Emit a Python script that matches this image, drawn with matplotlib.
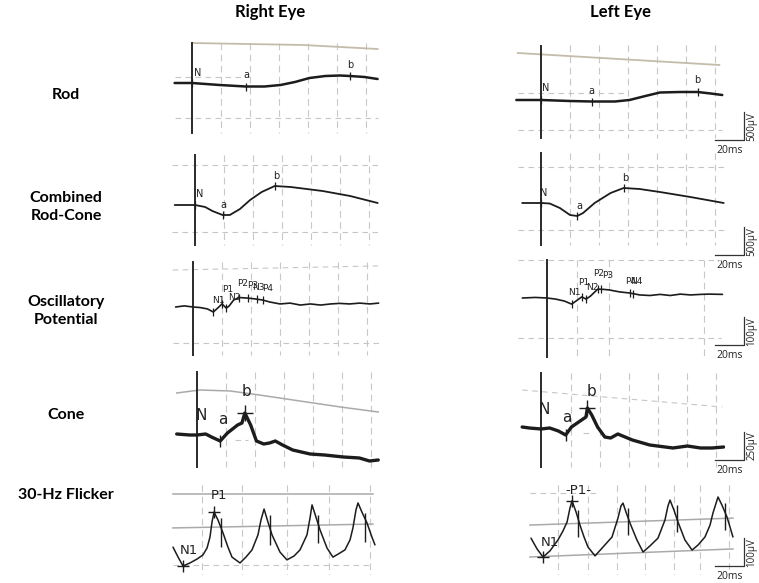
import numpy as np
import matplotlib
matplotlib.use("Agg")
import matplotlib.pyplot as plt

# ------------------------------------------------------------------ data
# time in ms (0 = flash / N marker), amplitude in microvolts
titles = ["Right Eye", "Left Eye"]
row_labels = ["Rod", "Combined\nRod-Cone", "Oscillatory\nPotential", "Cone", "30-Hz Flicker"]
scale_uv = [500, 500, 100, 250, 100]
scale_ms = 20

# Rod
rod_R_t = [-12, 0, 19, 37, 50, 61, 71, 81, 92, 102, 109, 119, 128]
rod_R_uv = [0, 0, -36, -63, -63, -36, 18, 90, 126, 135, 126, 108, 72]
rod_L_t = [-17, 0, 20, 35, 51, 61, 72, 82, 96, 108, 117, 125]
rod_L_uv = [0, 0, -18, -27, -27, 0, 72, 135, 144, 144, 117, 90]
rod_marks = ["N", "a", "b"]
rod_R_mark_t = [0, 37, 109]
rod_L_mark_t = [0, 35, 108]

# Combined rod-cone
comb_R_t = [-14, 0, 7, 12, 19, 24, 31, 38, 46, 55, 66, 88, 107, 126]
comb_R_uv = [0, 0, -36, -108, -180, -180, -72, 90, 234, 342, 324, 252, 162, 36]
comb_L_t = [-13, 0, 6, 13, 20, 25, 29, 37, 48, 57, 68, 82, 103, 126]
comb_L_uv = [0, 0, -9, -90, -216, -234, -180, 0, 180, 270, 252, 198, 108, 0]
comb_marks = ["N", "a", "b"]
comb_R_mark_t = [0, 19, 55]
comb_L_mark_t = [0, 25, 57]

# Oscillatory potentials
op_R_t = [-12, -6, 0, 5, 10, 14, 17, 20, 23, 25, 28, 32, 38, 43, 48, 53, 60, 67, 74,
          81, 88, 95, 101, 108, 115, 122, 128]
op_R_uv = [0, 4, 0, -2, -7, -18, -4, 11, -4, 4, 25, 34, 32, 29, 25, 18, 11, 14, 7,
           11, 7, 11, 13, 11, 14, 11, 14]
op_L_t = [-17, -8, 0, 6, 12, 17, 20, 24, 27, 30, 35, 39, 43, 50, 57, 64, 71, 78, 85,
          92, 99, 106, 112, 121]
op_L_uv = [0, 2, 0, -4, -11, -22, -11, 4, -4, 7, 32, 31, 29, 22, 18, 11, 9, 13, 9,
           14, 11, 13, 14, 13]
op_R_marks = ["N1", "P1", "N2", "P2", "P3", "N3", "P4"]
op_R_mark_t = [14, 20, 23, 32, 38, 44, 48]
op_L_marks = ["N1", "P1", "N2", "P2", "P3", "P4", "N4"]
op_L_mark_t = [17, 24, 27, 35, 37, 57, 59]

# Cone
cone_R_t = [-14, -5, 0, 6, 10, 16, 21, 28, 31, 33, 37, 41, 46, 50, 54, 59, 66, 78,
            88, 101, 112, 119, 125]
cone_R_uv = [9, 0, 0, 9, -18, -54, 18, 90, 108, 198, 90, -54, -81, -72, -54, -90,
             -135, -171, -180, -198, -207, -234, -225]
cone_L_t = [-13, -8, 0, 6, 12, 17, 21, 28, 31, 32, 35, 39, 44, 48, 53, 58, 63, 75,
            91, 101, 110, 118, 126]
cone_L_uv = [18, 9, 0, 9, -18, -54, 18, 81, 108, 189, 126, 18, -72, -81, -45, -72,
             -99, -144, -171, -153, -171, -171, -162]
cone_marks = ["N", "a", "b"]
cone_R_mark_t = [0, 16, 33]
cone_L_mark_t = [0, 17, 32]

# 30-Hz flicker (t = 0 at first trough N1)
flk_R_t = [-6.9, -3.4, 0, 4.8, 9.7, 13.8, 16.6, 18.6, 20, 21.4, 24.1, 27.6, 31, 33.8,
           39.3, 43.4, 47.6, 51.7, 53.8, 55.9, 58.6, 61.4, 66.9, 71.7, 76.6, 80.7,
           85.5, 87.6, 89, 91.7, 94.5, 99.3, 103.4, 108.3, 111.7, 115.2, 117.2,
           119.3, 120.7, 123.4, 126.9, 130.3, 132.4]
flk_R_uv = [68, 32, 0, 11, 25, 40, 65, 104, 158, 194, 166, 119, 68, 32, 11, 32, 58,
            112, 166, 205, 158, 112, 50, 22, 36, 58, 112, 173, 220, 176, 130, 65, 32,
            47, 58, 94, 137, 202, 227, 194, 155, 104, 76]
flk_L_t = [-8.3, -4.1, 0, 4.8, 10.3, 13.8, 16.6, 18.6, 20, 22.8, 25.5, 28.3, 31, 35.9,
           41.4, 47.6, 51.7, 53.8, 55.2, 57.2, 60, 64.8, 69, 73.8, 79.3, 84.1, 86.2,
           87.6, 90.3, 93.1, 97.9, 102.8, 106.9, 111.7, 115.2, 117.2, 120.7, 123.4,
           126.9, 131]
flk_L_uv = [68, 29, 0, 22, 61, 94, 126, 176, 202, 162, 115, 72, 36, 4, 36, 72, 140,
            184, 194, 162, 122, 61, 18, 40, 68, 133, 184, 205, 169, 126, 61, 25, 43,
            72, 115, 158, 216, 187, 144, 72]
flk_marks = ["N1", "P1"]
flk_R_mark_t = [0, 21.4]
flk_L_mark_t = [0, 20]
flk_R_tick_t = [26.2, 60, 93.1, 125.5]
flk_R_tick_lo = [68, 76, 83, 86]
flk_R_tick_hi = [173, 184, 184, 191]
flk_L_tick_t = [24.1, 58.6, 92.4, 125.5]
flk_L_tick_lo = [72, 79, 90, 97]
flk_L_tick_hi = [169, 176, 187, 194]

# background chart-paper lines: vertical grid times and N-line extent
grid_R = [[20, 40, 60, 80, 100, 120]] * 4 + [[13, 41, 72, 101, 129]]
grid_L = [[20, 40, 60, 80, 100, 120], [20, 40, 60, 80, 100, 120], [21, 43, 108],
          [21, 41, 61, 81, 101, 121], [10, 31, 51, 70, 90, 108, 128]]
nline_R = [(720, -900), (900, -720), (162, -173), (567, -288), None]
nline_L = [(990, -684), (900, -756), (137, -212), (504, -342), None]

# reference lines: (times, amplitudes, style)
refs_R = [
    [([0, 77, 128], [720, 684, 612], "tan"), ([-12, 35], [108, 108], "dash"),
     ([-12, 128], [-630, -630], "dash")],
    [([-16, 127], [720, 720], "dash"), ([-16, 127], [-486, -486], "dash")],
    [([-14, 128], [133, 148], "dash"), ([-14, 128], [-130, -130], "dash")],
    [([-14, 2, 23, 43, 71, 99, 125], [378, 405, 396, 360, 306, 252, 207], "gray"),
     ([26, 35], [-45, -45], "dash")],
    [([-7, 131], [259, 259], "gray"), ([-7, 131], [137, 151], "gray"),
     ([-7, 131], [4, 4], "dash")],
]
refs_L = [
    [([-16, 123], [846, 630], "tan"), ([-16, 60], [126, 126], "dash"),
     ([-16, 125], [-540, -540], "dash")],
    [([-16, 127], [648, 648], "dash"), ([-16, 127], [-486, -486], "dash")],
    [([-20, 120], [137, 137], "dash"), ([-20, 120], [-144, -144], "dash")],
    [([-13, 125], [351, 198], "dash"), ([29, 36], [-36, -36], "dash")],
    [([-9, 39], [230, 230], "dash"), ([-9, 131], [115, 140], "gray"),
     ([-9, 131], [0, 29], "gray")],
]

# ------------------------------------------------------------------ layout
W, H = 759, 583
PX_PER_MS = 1.45
fig = plt.figure(figsize=(W / 100, H / 100), dpi=100)
fig.patch.set_facecolor("white")

BOLD = ["Lato", "Open Sans", "DejaVu Sans"]
NARROW = ["Liberation Sans Narrow", "DejaVu Sans"]
TRACE = "#1c1c1c"

# pixel geometry: (x0, x1, y0, y1), x of t=0, y of 0 uV, uV per px
geo_R = [((172, 380, 40, 138), 192, 83, 18), ((172, 380, 152, 248), 195, 205, 18),
         ((172, 380, 258, 358), 193, 307, 3.6), ((172, 380, 368, 470), 197, 435, 9),
         ((168, 380, 485, 575), 183, 566, 3.6)]
geo_L = [((515, 725, 45, 142), 541, 100, 18), ((515, 725, 150, 248), 541, 203, 18),
         ((515, 725, 255, 360), 547, 298, 3.6), ((515, 725, 368, 470), 541, 429, 9),
         ((520, 740, 485, 575), 543, 557, 3.6)]


def make_ax(g):
    (x0, x1, y0, y1), xn, yb, uvpp = g
    ax = fig.add_axes([x0 / W, 1 - y1 / H, (x1 - x0) / W, (y1 - y0) / H])
    ax.set_xlim((x0 - xn) / PX_PER_MS, (x1 - xn) / PX_PER_MS)
    ax.set_ylim((yb - y1) * uvpp, (yb - y0) * uvpp)
    ax.axis("off")
    return ax


ref_style = {
    "tan": dict(color="#c4bcab", lw=1.3, ls="-"),
    "gray": dict(color="#aaaaaa", lw=1.1, ls="-"),
    "dash": dict(color="#c6c6c6", lw=0.8, ls=(0, (5, 4))),
}

traces_R = [(rod_R_t, rod_R_uv), (comb_R_t, comb_R_uv), (op_R_t, op_R_uv),
            (cone_R_t, cone_R_uv), (flk_R_t, flk_R_uv)]
traces_L = [(rod_L_t, rod_L_uv), (comb_L_t, comb_L_uv), (op_L_t, op_L_uv),
            (cone_L_t, cone_L_uv), (flk_L_t, flk_L_uv)]
marks_R = [(rod_marks, rod_R_mark_t), (comb_marks, comb_R_mark_t),
           (op_R_marks, op_R_mark_t), (cone_marks, cone_R_mark_t),
           (flk_marks, flk_R_mark_t)]
marks_L = [(rod_marks, rod_L_mark_t), (comb_marks, comb_L_mark_t),
           (op_L_marks, op_L_mark_t), (cone_marks, cone_L_mark_t),
           (flk_marks, flk_L_mark_t)]

# label offsets in px (dx right, dy up) per marker
off_R = [[(6, 10), (1, 11), (0, 11)], [(5, 11), (1, 10), (2, 10)],
         [(5, 12), (6, 14), (8, 11), (3, 14), (5, 13), (2, 12), (5, 12)],
         [(4, 20), (3, 21), (2, 21)], [(6, 16), (5, 17)]]
off_L = [[(5, 12), (0, 11), (0, 12)], [(3, 10), (2, 10), (2, 10)],
         [(3, 12), (2, 14), (6, 12), (1, 16), (7, 14), (1, 12), (4, 12)],
         [(3, 19), (1, 17), (4, 16)], [(7, 14), (6, 10)]]

trace_lw = [1.8, 1.3, 1.2, 2.4, 1.1]
label_fs = [7, 7, 6.5, 11, 9.5]

for side, (geos, traces, marks, offs, grids, nlines, refs) in enumerate([
        (geo_R, traces_R, marks_R, off_R, grid_R, nline_R, refs_R),
        (geo_L, traces_L, marks_L, off_L, grid_L, nline_L, refs_L)]):
    for r in range(5):
        ax = make_ax(geos[r])
        ylo, yhi = ax.get_ylim()
        span = nlines[r] if nlines[r] is not None else (yhi, ylo)
        # vertical grid
        for gt in grids[r]:
            ax.plot([gt, gt], [span[0], span[1]], color="#c8c8c8", lw=0.8,
                    ls=(0, (6, 4)), zorder=1)
        for tt, aa, st in refs[r]:
            ax.plot(tt, aa, zorder=1, **ref_style[st])
        if nlines[r] is not None:
            ax.plot([0, 0], [span[0], span[1]], color="#2a2a2a", lw=1.4, zorder=2)
        t, uv = traces[r]
        ax.plot(t, uv, color=TRACE, lw=trace_lw[r], solid_capstyle="round",
                solid_joinstyle="round", zorder=3)
        names, mts = marks[r]
        for k, (nm, mt) in enumerate(zip(names, mts)):
            mv = np.interp(mt, t, uv)
            if r == 3:
                if nm == "a":
                    ax.plot([mt], [mv], marker="|", ms=9, mew=1.0, color=TRACE, zorder=4)
                elif nm == "b":
                    ax.plot([mt], [mv], marker="+", ms=11, mew=1.0, color=TRACE, zorder=4)
            elif r == 4:
                ax.plot([mt], [mv], marker="+", ms=9, mew=1.0, color=TRACE, zorder=4)
            else:
                ax.plot([mt], [mv], marker="|", ms=6, mew=0.9, color=TRACE, zorder=4)
            dx, dy = offs[r][k]
            txt = nm
            if r == 4 and side == 1 and nm == "P1":
                txt = "-P1-"
            fam = NARROW if r >= 3 else ["DejaVu Sans"]
            ax.annotate(txt, (mt, mv), xytext=(dx * 0.72, dy * 0.72),
                        textcoords="offset points", ha="center", va="center",
                        fontsize=label_fs[r], family=fam, color="#222222", zorder=5)
        if r == 4:
            tk_t, lo, hi = ((flk_R_tick_t, flk_R_tick_lo, flk_R_tick_hi) if side == 0
                            else (flk_L_tick_t, flk_L_tick_lo, flk_L_tick_hi))
            ax.vlines(tk_t, lo, hi, color=TRACE, lw=1.0, zorder=4)
        # scale bars beside the left-eye traces
        if side == 1:
            (x0, x1, y0, y1), xn, yb, uvpp = geos[r]
            bar_y = {0: 140, 1: 255, 2: 345, 3: 460, 4: 566}[r]
            base = (yb - bar_y) * uvpp
            tx = (744 - xn) / PX_PER_MS
            ax.plot([tx - scale_ms, tx, tx], [base, base, base + scale_uv[r]],
                    color="#333333", lw=0.9, clip_on=False)
            ax.annotate("%dms" % scale_ms, (tx - scale_ms / 2, base), xytext=(0, -7.5),
                        textcoords="offset points", ha="center", va="center",
                        fontsize=7.5, family=["Open Sans", "DejaVu Sans"],
                        color="#222222", annotation_clip=False)
            ax.annotate("%dµV" % scale_uv[r], (tx, base + scale_uv[r] / 2),
                        xytext=(5.5, 0), textcoords="offset points", ha="center",
                        va="center", rotation=90, fontsize=7,
                        family=["Open Sans", "DejaVu Sans"], color="#222222",
                        annotation_clip=False)

# titles and row labels
fig.text(270 / W, 1 - 12 / H, titles[0], ha="center", va="center", fontsize=12,
         fontweight="bold", family=BOLD)
fig.text(621 / W, 1 - 12 / H, titles[1], ha="center", va="center", fontsize=12,
         fontweight="bold", family=BOLD)
row_y = [95, 207, 311, 415, 495]
for lab, yy in zip(row_labels, row_y):
    fig.text(66 / W, 1 - yy / H, lab, ha="center", va="center", fontsize=11.5,
             fontweight="bold", family=BOLD, linespacing=1.3)

fig.savefig("out.png", dpi=100, facecolor="white")
